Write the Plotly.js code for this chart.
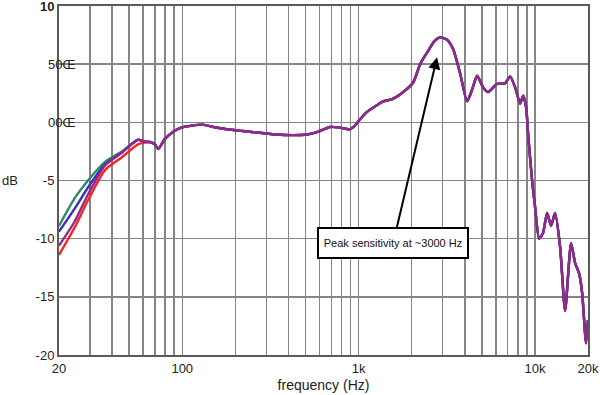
<!DOCTYPE html>
<html>
<head>
<meta charset="utf-8">
<script src="https://cdn.plot.ly/plotly-3.0.1.min.js"></script>
<style>
  html, body { margin: 0; padding: 0; background: #ffffff; }
  #chart { width: 600px; height: 395px; }
</style>
</head>
<body>
<div id="chart"></div>
<script>
// ---- Data ----
// Low-frequency part, where the four measurements differ (Hz)
const freqLow = [20, 24.6, 29.2, 36.5, 45.5, 56, 61, 66];
const redLow    = [-11.4, -9.0, -6.7, -4.1, -3.0, -1.9, -1.75, -1.7];
const greenLow  = [-8.9, -6.5, -5.0, -3.4, -2.5, -1.5, -1.65, -1.7];
const blueLow   = [-9.4, -7.4, -5.6, -3.6, -2.6, -1.5, -1.65, -1.7];
const purpleLow = [-10.6, -8.5, -6.2, -3.7, -2.6, -1.5, -1.65, -1.7];

// Shared part, where all curves coincide (Hz, dB)
const freqHigh = [70, 73, 80, 89, 97, 115, 131, 150, 179, 221, 276, 343, 426, 509, 580, 688, 782, 889, 950,
  1011, 1117, 1250, 1376, 1550, 1718, 2036, 2233, 2446, 2700, 2900, 3176, 3435, 3767, 4124, 4400, 4699, 5082, 5425,
  6099, 6777, 7229, 7725, 8244, 8573, 8915, 9148, 9638, 10024, 10564, 11125, 11718, 12350, 13004,
  13893, 14830, 16032, 16906, 17824, 18537, 19500, 20000];
const dbHigh = [-1.9, -2.3, -1.4, -0.8, -0.5, -0.26, -0.2, -0.4, -0.6, -0.75, -0.9, -1.05, -1.1, -1.05, -0.85, -0.4, -0.45, -0.6, -0.3,
  0.2, 0.9, 1.4, 1.8, 2.0, 2.4, 3.4, 5.0, 6.0, 7.0, 7.3, 7.1, 6.3, 4.2, 1.8, 2.8, 4.0, 3.0, 2.6,
  3.3, 3.35, 3.95, 3.0, 1.6, 2.3, 1.3, -1.0, -5.0, -7.3, -10.0, -9.5, -7.8, -8.9, -7.8,
  -10.7, -16.2, -10.4, -12.1, -13.0, -14.7, -19.0, -17.0];

// Axis ticks
const xTickVals = [20, 30, 40, 50, 60, 70, 80, 90, 100, 200, 300, 400, 500, 600, 700, 800, 900,
  1000, 2000, 3000, 4000, 5000, 6000, 7000, 8000, 9000, 10000, 20000];
const xTickText = ['20', '', '', '', '', '', '', '', '100', '', '', '', '', '', '', '', '',
  '1k', '', '', '', '', '', '', '', '', '10k', '20k'];
const yTickVals = [-20, -15, -10, -5, 0, 5, 10];
const yTickText = ['-20', '-15', '-10', '-5', '', '', '<b>10</b>'];
const yOddLabels = ['00Œ', '50Œ'];
const yOddVals = [0, 5];

const seriesNames = ['red', 'green', 'blue', 'purple'];
const seriesLow = [redLow, greenLow, blueLow, purpleLow];
const seriesColors = ['#ff1f1f', '#2b8a6a', '#3a2fb8', '#8f2a8c'];

const traces = seriesLow.map((low, i) => ({
  type: 'scatter',
  mode: 'lines',
  name: seriesNames[i],
  x: freqLow.concat(freqHigh),
  y: low.concat(dbHigh),
  line: { color: seriesColors[i], width: 2.4, shape: 'spline', smoothing: 0.6 },
  hoverinfo: 'skip'
}));

const font = 'Arial, "Liberation Sans", Helvetica, sans-serif';

const annotations = [
  {
    x: Math.log10(2787), y: 5.6, xref: 'x', yref: 'y',
    ax: -44, ay: 186,
    text: 'Peak sensitivity at ~3000 Hz',
    showarrow: true, arrowhead: 2, arrowsize: 1.2, arrowwidth: 2, arrowcolor: '#000',
    bgcolor: '#ffffff', bordercolor: '#000', borderwidth: 2, borderpad: 1,
    width: 146, height: 26,
    font: { family: font, size: 11, color: '#111' }
  },
  {
    x: 0, xref: 'paper', y: -5, yref: 'y', xshift: -59, xanchor: 'left',
    text: 'dB', showarrow: false,
    font: { family: font, size: 13, color: '#222' }
  }
];
yOddLabels.forEach((t, i) => annotations.push({
  x: 0, xref: 'paper', y: yOddVals[i], yref: 'y', xshift: -13, xanchor: 'left',
  text: t, showarrow: false,
  font: { family: font, size: 13, color: '#222' }
}));

const layout = {
  width: 600, height: 395,
  margin: { l: 59, r: 12, t: 6, b: 40 },
  paper_bgcolor: '#ffffff', plot_bgcolor: '#ffffff',
  showlegend: false,
  font: { family: font, size: 13, color: '#222' },
  xaxis: {
    type: 'log',
    range: [Math.log10(20), Math.log10(20000)],
    tickmode: 'array', tickvals: xTickVals, ticktext: xTickText,
    showgrid: true, gridcolor: '#858585', gridwidth: 1.5,
    showline: true, linecolor: '#5a5a5a', linewidth: 2, mirror: true,
    ticks: '', tickfont: { family: font, size: 13, color: '#222' },
    ticklabeloverflow: 'allow',
    title: { text: 'frequency (Hz)', font: { family: font, size: 14, color: '#222' }, standoff: 6 },
    zeroline: false
  },
  yaxis: {
    range: [-20, 10],
    tickmode: 'array', tickvals: yTickVals, ticktext: yTickText,
    showgrid: true, gridcolor: '#858585', gridwidth: 1.5,
    showline: true, linecolor: '#5a5a5a', linewidth: 2, mirror: true,
    ticks: '', tickfont: { family: font, size: 13, color: '#222' },
    ticklabeloverflow: 'allow',
    zeroline: false
  },
  annotations: annotations
};

Plotly.newPlot('chart', traces, layout, { staticPlot: true, displayModeBar: false });
</script>
</body>
</html>
